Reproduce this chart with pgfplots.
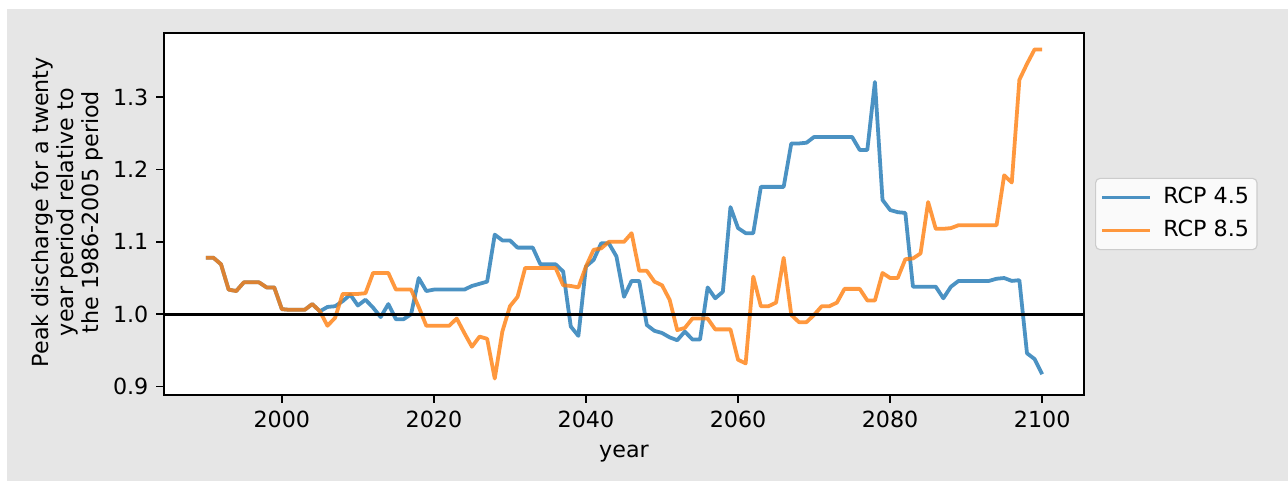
\documentclass[border=0pt]{standalone}
\usepackage{fontspec}
\setmainfont{DejaVu Sans}
\usepackage{pgfplots}
\pgfplotsset{compat=1.18}
\usepackage{pgfplotstable}
\definecolor{mplblue}{RGB}{31,119,180}
\definecolor{mplorange}{RGB}{255,127,14}
\definecolor{bggray}{RGB}{230,230,230}
\definecolor{legfill}{RGB}{250,250,250}
\definecolor{legedge}{RGB}{204,204,204}

\pgfplotstableread{
year r45 r85
1990 1.078 1.078
1991 1.078 1.078
1992 1.069 1.069
1993 1.034 1.034
1994 1.032 1.032
1995 1.044 1.044
1996 1.044 1.044
1997 1.044 1.044
1998 1.037 1.037
1999 1.037 1.037
2000 1.007 1.007
2001 1.006 1.006
2002 1.006 1.006
2003 1.006 1.006
2004 1.014 1.014
2005 1.004 1.004
2006 1.010 0.984
2007 1.011 0.995
2008 1.018 1.028
2009 1.027 1.028
2010 1.012 1.028
2011 1.020 1.029
2012 1.009 1.057
2013 0.996 1.057
2014 1.014 1.057
2015 0.993 1.034
2016 0.993 1.034
2017 1.000 1.034
2018 1.050 1.010
2019 1.032 0.984
2020 1.034 0.984
2021 1.034 0.984
2022 1.034 0.984
2023 1.034 0.994
2024 1.034 0.974
2025 1.039 0.955
2026 1.042 0.969
2027 1.045 0.966
2028 1.110 0.911
2029 1.102 0.976
2030 1.102 1.011
2031 1.092 1.024
2032 1.092 1.064
2033 1.092 1.064
2034 1.069 1.064
2035 1.069 1.064
2036 1.069 1.064
2037 1.059 1.040
2038 0.983 1.039
2039 0.970 1.037
2040 1.066 1.066
2041 1.075 1.089
2042 1.098 1.091
2043 1.098 1.100
2044 1.080 1.100
2045 1.024 1.100
2046 1.046 1.112
2047 1.046 1.060
2048 0.985 1.060
2049 0.977 1.045
2050 0.974 1.040
2051 0.968 1.020
2052 0.964 0.978
2053 0.976 0.981
2054 0.965 0.994
2055 0.965 0.994
2056 1.037 0.994
2057 1.022 0.979
2058 1.031 0.979
2059 1.148 0.979
2060 1.119 0.937
2061 1.112 0.932
2062 1.112 1.052
2063 1.176 1.011
2064 1.176 1.011
2065 1.176 1.016
2066 1.176 1.078
2067 1.236 0.999
2068 1.236 0.989
2069 1.237 0.989
2070 1.245 0.999
2071 1.245 1.011
2072 1.245 1.011
2073 1.245 1.016
2074 1.245 1.035
2075 1.245 1.035
2076 1.227 1.035
2077 1.227 1.019
2078 1.321 1.019
2079 1.158 1.057
2080 1.144 1.050
2081 1.141 1.050
2082 1.140 1.076
2083 1.038 1.077
2084 1.038 1.084
2085 1.038 1.155
2086 1.038 1.118
2087 1.022 1.118
2088 1.038 1.119
2089 1.046 1.123
2090 1.046 1.123
2091 1.046 1.123
2092 1.046 1.123
2093 1.046 1.123
2094 1.049 1.123
2095 1.050 1.192
2096 1.046 1.182
2097 1.047 1.324
2098 0.946 1.346
2099 0.938 1.366
2100 0.917 1.366
}\datatable

\begin{document}
\begin{tikzpicture}[x=0.45pt,y=0.45pt]
\fill[white] (-164,-86) rectangle (1124,395);
\fill[bggray] (-157,-86) rectangle (1124,386);
\begin{axis}[
  at={(0pt,0pt)}, anchor=south west,
  scale only axis, width=414pt, height=162.9pt,
  xmin=1984.5, xmax=2105.5, ymin=0.8883, ymax=1.3887,
  axis background/.style={fill=white},
  axis line style={line width=0.8pt, black},
  tick pos=left, tick align=outside, major tick length=3.5pt,
  every tick/.style={line width=0.8pt, black},
  xtick={2000,2020,2040,2060,2080,2100},
  xticklabels={2000,2020,2040,2060,2080,2100},
  ytick={0.9,1.0,1.1,1.2,1.3},
  yticklabels={0.9,1.0,1.1,1.2,1.3},
  tick label style={font=\fontsize{10}{12}\selectfont},
  /pgf/number format/assume math mode=true,
  xlabel={year},
  xlabel style={font=\fontsize{10}{12}\selectfont, at={(axis description cs:0.5,-0.174)}, anchor=base},
  ylabel={Peak discharge for a twenty\\year period relative to\\the 1986-2005 period},
  ylabel style={align=center, font=\fontsize{10}{11.2}\selectfont, at={(axis description cs:-0.105,0.505)}, anchor=center},
  legend style={at={(axis description cs:1.012,0.5)}, anchor=west, draw=legedge, fill=legfill,
    rounded corners=2pt, line width=0.5pt, font=\fontsize{10}{12}\selectfont, inner sep=2.1pt, row sep=1.85pt,
    nodes={inner sep=1.5pt, text height=7.5pt, text depth=2.5pt},
    /tikz/every odd column/.append style={column sep=3.6pt}},
  legend cell align=left,
  legend image code/.code={\draw[#1, line width=1.7pt, sharp corners] (0pt,0pt) -- (21.6pt,0pt);},
]
\addplot[mplblue, line width=1.7pt, opacity=0.8, line join=round] table[x=year, y=r45] {\datatable};
\addlegendentry{RCP 4.5}
\addplot[mplorange, line width=1.7pt, opacity=0.8, line join=round] table[x=year, y=r85] {\datatable};
\addlegendentry{RCP 8.5}
\addplot[black, line width=1.5pt, forget plot] coordinates {(1984.5,1.0) (2105.5,1.0)};
\end{axis}
\end{tikzpicture}
\end{document}
